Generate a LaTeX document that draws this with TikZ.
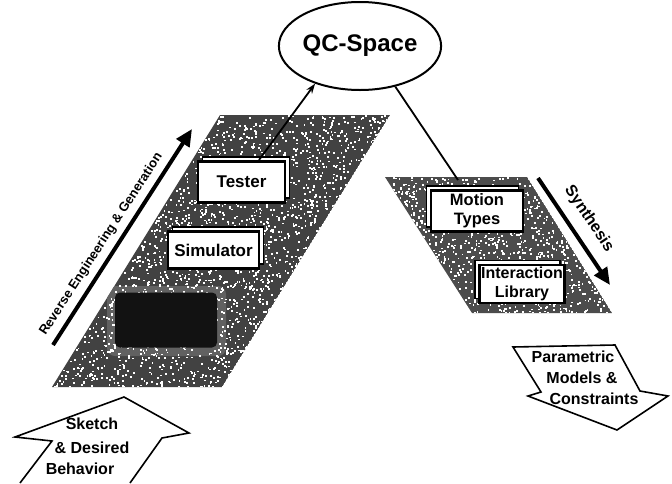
\documentclass[tikz,border=0pt]{standalone}
\usepackage{fontspec}
\setmainfont{Liberation Sans}
\usetikzlibrary{arrows.meta,shapes.geometric,shadows}
\begin{document}
\begin{tikzpicture}[x=1pt,y=-1pt,
  lbl/.style={font=\bfseries\fontsize{17}{19}\selectfont, align=center},
  boxbase/.style={draw=black, line width=2.4pt, fill=white, inner sep=0pt, lbl},
  boxL/.style={boxbase, copy shadow={shadow xshift=4.5pt, shadow yshift=4.5pt, fill=white, draw=black, line width=1.3pt}},
  boxR/.style={boxbase, copy shadow={shadow xshift=-4.5pt, shadow yshift=4.5pt, fill=white, draw=black, line width=1.3pt}},
  thick arrow/.style={line width=4pt, -{Triangle[length=17pt,width=15pt]}},
  thin arrow/.style={line width=1.8pt, -{Stealth[length=10pt,width=7pt]}},
  side/.style={font=\bfseries\fontsize{13}{15}\selectfont, inner sep=0pt},
  block/.style={draw=black, line width=1.6pt, fill=white, line join=miter},
  blk/.style={font=\bfseries\fontsize{16}{18}\selectfont, inner sep=0pt}
]
\useasboundingbox (0,0) rectangle (672,483);
\fill[white] (0,0) rectangle (672,483);

% left textured panel
\begin{scope}
  \clip (52,387) -- (222,387) -- (390,115) -- (220,115) -- cycle;
  \fill[black!74] (52,387) -- (222,387) -- (390,115) -- (220,115) -- cycle;
  \fill[black!62, rounded corners=8pt] (107,286) rectangle (226,356);
  \pgfmathsetseed{11}
  \foreach \i in {1,...,1900}{
    \pgfmathsetmacro\u{rnd}\pgfmathsetmacro\v{rnd}
    \fill[white] (52+170*\u+168*\v, 387-272*\v) rectangle ++(1.8,1.8);
  }
\end{scope}
% right textured panel
\begin{scope}
  \clip (472,313) -- (612,313) -- (527,177) -- (385,177) -- cycle;
  \fill[black!70] (472,313) -- (612,313) -- (527,177) -- (385,177) -- cycle;
  \pgfmathsetseed{23}
  \foreach \i in {1,...,900}{
    \pgfmathsetmacro\u{rnd}\pgfmathsetmacro\v{rnd}
    \fill[white] (472+140*\u-87*\v, 313-136*\v) rectangle ++(1.8,1.8);
  }
\end{scope}

% dark box
\node[fill=black!93, rounded corners=5pt, minimum width=102pt, minimum height=55pt, inner sep=0pt] (dark) at (166,320) {};

% boxes
\node[boxL, minimum width=87pt, minimum height=41pt] (tester) at (241.5,182) {Tester};
\node[boxL, minimum width=91pt, minimum height=37pt] (sim) at (213.5,250) {Simulator};
\node[boxR, minimum width=92pt, minimum height=41pt, font=\bfseries\fontsize{16.5}{19}\selectfont] (motion) at (477,211) {Motion\\Types};
\node[boxR, minimum width=85pt, minimum height=38pt, font=\bfseries\fontsize{16}{18.5}\selectfont] (inter) at (522,284) {Interaction\\Library};

% QC-Space
\node[ellipse, draw=black, line width=2pt, fill=white, minimum width=146pt, minimum height=88pt, inner sep=0pt, font=\bfseries\fontsize{24}{26}\selectfont] (qc) at (360,46) {QC-Space};

% connectors
\coordinate (a1) at (259,160);
\draw[thin arrow] (a1) -- (qc.220);
\coordinate (m1) at (458,180);
\draw[line width=1.8pt] (qc.-49) -- (m1);

% side arrows
\coordinate (r1) at (53,345);
\coordinate (r2) at (192,129);
\draw[thick arrow] (r1) -- (r2);
\node[side, rotate=57] (revtext) at (101.3,244.2) {Reverse Engineering \& Generation};

\coordinate (s1) at (538,178);
\coordinate (s2) at (610,285);
\draw[thick arrow] (s1) -- (s2);
\node[side, rotate=-56, font=\bfseries\fontsize{16}{18}\selectfont] (syntext) at (589,219) {Synthesis};

% Sketch block arrow
\filldraw[block] (20,483) -- (52,441) -- (15,437) -- (124,397) -- (189,433) -- (162,438) -- (130,483);
\node[blk] (sk1) at (92,424) {Sketch};
\node[blk] (sk2) at (92,448) {\& Desired};
\node[blk] (sk3) at (80,469) {Behavior};

% Parametric block arrow
\filldraw[block] (513,347) -- (615,345) -- (640,391) -- (668,396) -- (617,430) -- (528,396) -- (541,392) -- cycle;
\node[blk] (pm1) at (573,357) {Parametric};
\node[blk] (pm2) at (582,378) {Models \&};
\node[blk] (pm3) at (594,399) {Constraints};
\end{tikzpicture}
\end{document}
